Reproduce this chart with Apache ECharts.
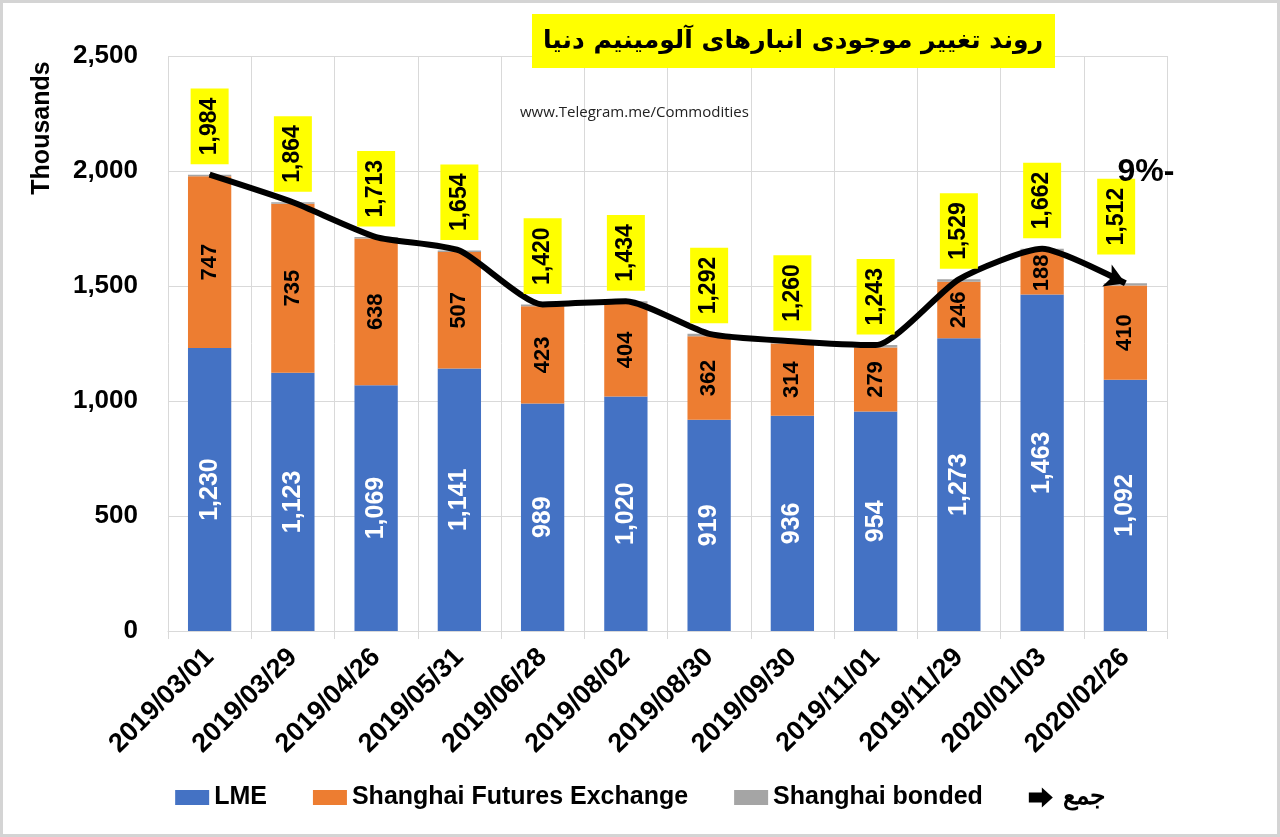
<!DOCTYPE html>
<html>
<head>
<meta charset="UTF-8">
<title></title>
<script type="text/javascript" src="https://cdn.jsdelivr.net/npm/echarts@6/dist/echarts.min.js"></script>
<style>
  html, body { margin: 0; padding: 0; background: #fff; }
  #chartArea { width: 1280px; height: 837px; }
</style>
</head>
<body>
<div id="chartArea"></div>
<script type="text/javascript">
var dates = ['2019/03/01', '2019/03/29', '2019/04/26', '2019/05/31', '2019/06/28', '2019/08/02',
  '2019/08/30', '2019/09/30', '2019/11/01', '2019/11/29', '2020/01/03', '2020/02/26'];
var lme = [1230, 1123, 1069, 1141, 989, 1020, 919, 936, 954, 1273, 1463, 1092];
var shfe = [747, 735, 638, 507, 423, 404, 362, 314, 279, 246, 188, 410];
var bonded = [7, 6, 6, 6, 8, 10, 11, 10, 10, 10, 11, 10];
var totals = [1984, 1864, 1713, 1654, 1420, 1434, 1292, 1260, 1243, 1529, 1662, 1512];
var yTicks = [0, 500, 1000, 1500, 2000, 2500];

var FONT = "'Liberation Sans', Arial, sans-serif";

var myChart = echarts.init(document.getElementById('chartArea'));

function fmt(v) {
  return echarts.format.addCommas(v);
}

// جمع line: plain points, arrow head on the last one
var lineData = [];
for (var i = 0; i < totals.length; i++) {
  if (i === totals.length - 1) {
    lineData.push({ value: totals[i], symbol: 'arrow', symbolSize: [18, 20], symbolRotate: -113 });
  } else {
    lineData.push({ value: totals[i], symbol: 'circle', symbolSize: 1 });
  }
}

var boxIcon = 'path://M0,0 L34,0 L34,15 L0,15 Z';
var arrowIcon = 'path://M0,5 L13,5 L13,0 L24,10 L13,20 L13,15 L0,15 Z';

var option = {
  backgroundColor: '#fff',
  textStyle: { fontFamily: FONT },
  animation: false,
  grid: { left: 168, right: 113, top: 56, bottom: 206 },
  legend: {
    bottom: 22,
    left: 'center',
    itemGap: 46,
    itemWidth: 34,
    itemHeight: 20,
    textStyle: { fontFamily: FONT, fontSize: 25, fontWeight: 'bold', color: '#000' },
    data: [
      { name: 'LME', icon: boxIcon },
      { name: 'Shanghai Futures Exchange', icon: boxIcon },
      { name: 'Shanghai bonded', icon: boxIcon },
      { name: 'جمع', icon: arrowIcon, itemStyle: { color: '#000' } }
    ]
  },
  xAxis: {
    type: 'category',
    data: dates,
    axisLine: { lineStyle: { color: '#d9d9d9' } },
    axisTick: { show: true, length: 8, lineStyle: { color: '#d9d9d9' } },
    splitLine: { show: true, lineStyle: { color: '#d9d9d9', width: 1 } },
    axisLabel: {
      rotate: 45,
      interval: 0,
      margin: 22,
      fontFamily: FONT,
      fontSize: 27,
      fontWeight: 'bold',
      color: '#000'
    }
  },
  yAxis: {
    type: 'value',
    min: yTicks[0],
    max: yTicks[yTicks.length - 1],
    interval: 500,
    axisLine: { show: false },
    axisTick: { show: false },
    splitLine: { lineStyle: { color: '#d9d9d9', width: 1 } },
    axisLabel: {
      margin: 30,
      fontFamily: FONT,
      fontSize: 26,
      fontWeight: 'bold',
      color: '#000',
      formatter: function (v) { return fmt(v); }
    }
  },
  series: [{
    name: 'LME',
    type: 'bar',
    stack: 'inv',
    barWidth: '52%',
    itemStyle: { color: '#4472C4' },
    label: {
      show: true,
      position: 'inside',
      rotate: 90,
      fontFamily: FONT,
      fontSize: 25,
      fontWeight: 'bold',
      color: '#fff',
      formatter: function (p) { return fmt(p.value); }
    },
    data: lme
  }, {
    name: 'Shanghai Futures Exchange',
    type: 'bar',
    stack: 'inv',
    itemStyle: { color: '#ED7D31' },
    label: {
      show: true,
      position: 'inside',
      rotate: 90,
      fontFamily: FONT,
      fontSize: 22,
      fontWeight: 'bold',
      color: '#000',
      formatter: function (p) { return fmt(p.value); }
    },
    data: shfe
  }, {
    name: 'Shanghai bonded',
    type: 'bar',
    stack: 'inv',
    itemStyle: { color: '#A5A5A5' },
    data: bonded
  }, {
    name: 'جمع',
    type: 'line',
    z: 5,
    smooth: 0.2,
    itemStyle: { color: '#000' },
    lineStyle: { color: '#000', width: 6 },
    label: {
      show: true,
      position: 'top',
      distance: 10,
      rotate: 90,
      align: 'left',
      verticalAlign: 'middle',
      fontFamily: FONT,
      fontSize: 23,
      fontWeight: 'bold',
      color: '#000',
      backgroundColor: '#FFFF00',
      padding: [8, 9, 7, 9],
      formatter: function (p) { return fmt(p.value); }
    },
    data: lineData
  }],
  graphic: [{
    type: 'rect',
    shape: { x: 1, y: 1, width: 1278, height: 835 },
    style: { fill: 'none', stroke: '#d4d4d4', lineWidth: 4 },
    silent: true,
    z: 0
  }, {
    type: 'rect',
    shape: { x: 532, y: 14, width: 523, height: 54 },
    style: { fill: '#FFFF00' },
    z: 10
  }, {
    type: 'text',
    x: 793, y: 41,
    z: 11,
    style: {
      text: 'روند تغییر موجودی انبارهای آلومینیم دنیا',
      fontFamily: "'DejaVu Sans', 'Noto Sans', sans-serif",
      fontSize: 25,
      fontWeight: 'bold',
      fill: '#000',
      align: 'center',
      verticalAlign: 'middle'
    }
  }, {
    type: 'text',
    x: 520, y: 113,
    z: 11,
    style: {
      text: 'www.Telegram.me/Commodities',
      fontFamily: "'Open Sans', 'Noto Sans', sans-serif",
      fontSize: 15,
      fill: '#222',
      align: 'left',
      verticalAlign: 'middle'
    }
  }, {
    type: 'text',
    x: 1146, y: 172,
    z: 11,
    style: {
      text: '9%-',
      fontFamily: FONT,
      fontSize: 32,
      fontWeight: 'bold',
      fill: '#000',
      align: 'center',
      verticalAlign: 'middle'
    }
  }, {
    type: 'text',
    x: 42, y: 128,
    rotation: Math.PI / 2,
    z: 11,
    style: {
      text: 'Thousands',
      fontFamily: FONT,
      fontSize: 25,
      fontWeight: 'bold',
      fill: '#000',
      align: 'center',
      verticalAlign: 'middle'
    }
  }]
};

myChart.setOption(option);
</script>
</body>
</html>
